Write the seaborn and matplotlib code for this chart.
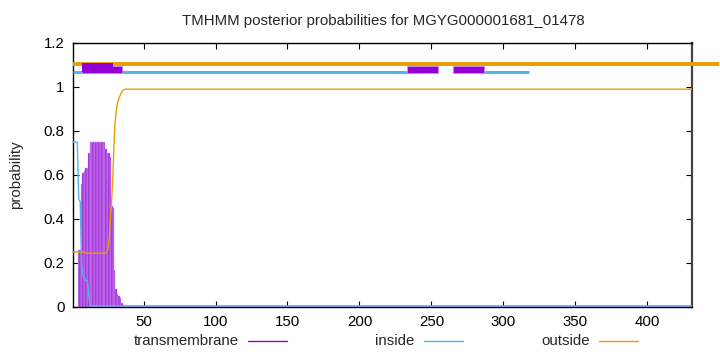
import numpy as np
import pandas as pd
import matplotlib
matplotlib.use("Agg")
import matplotlib.pyplot as plt
import seaborn as sns
from matplotlib.patches import Rectangle
from matplotlib.lines import Line2D
from matplotlib.ticker import FuncFormatter

# ---------------- data ----------------
title = "TMHMM posterior probabilities for MGYG000001681_01478"
seq_len = 431

# per-residue posterior probabilities (residues 1..len(head)), rest constant tail
tm_head = [0, 0, 0, 0, 0.26, 0.26, 0.56, 0.61, 0.62, 0.63, 0.63, 0.70,
           0.75, 0.75, 0.75, 0.75, 0.75, 0.75, 0.75, 0.75, 0.75, 0.75, 0.75,
           0.72, 0.70, 0.70, 0.68, 0.46, 0.45, 0.17, 0.08, 0.06, 0.05, 0.04,
           0.02, 0.01]
tm_tail = 0.003

inside_head = [0.75, 0.75, 0.75, 0.75, 0.49, 0.48, 0.19, 0.14, 0.13, 0.12,
               0.12, 0.05]
inside_tail = 0.005

outside_head = [0.25, 0.25, 0.25, 0.25, 0.25, 0.25, 0.25, 0.25, 0.25,
                0.245, 0.245, 0.245, 0.245, 0.245, 0.245, 0.245, 0.245,
                0.245, 0.245, 0.245, 0.245, 0.245, 0.245, 0.245, 0.26,
                0.30, 0.40, 0.50, 0.65, 0.82, 0.89, 0.93, 0.95, 0.965,
                0.98, 0.985]
outside_tail = 0.99

# predicted topology segments (top bars)
outside_segs = [(1, 450)]
inside_segs = [(1, 244), (286, 318)]
tm_boxes = [(232.8, 254.3), (264.7, 286.2)]
tm_box_main = (7.2, 28.7)
tm_box_ext = (7.2, 35.0)

x_ticks = [50, 100, 150, 200, 250, 300, 350, 400]
y_ticks = [0, 0.2, 0.4, 0.6, 0.8, 1.0, 1.2]
legend_labels = ["transmembrane", "inside", "outside"]

# ---------------- build ----------------
def full(head, tail):
    return np.array(head + [tail] * (seq_len - len(head)), dtype=float)

pos = np.arange(1, seq_len + 1)
df = pd.DataFrame({"pos": pos,
                   "tm": full(tm_head, tm_tail),
                   "inside": full(inside_head, inside_tail),
                   "outside": full(outside_head, outside_tail)})

c_tm = "#9400D3"
c_in = "#56B4E9"
c_out = "#E69F00"
FS = 10.8

sns.set_theme(style="ticks")
plt.rcParams['font.family'] = ['Liberation Sans', 'DejaVu Sans']

W, H = 720, 352
fig = plt.figure(figsize=(7.2, 3.52), dpi=100)
ax = fig.add_axes([73 / W, 45 / H, 619 / W, 264 / H])

ax.bar(df["pos"], df["tm"], width=1.0, color="#9a22da",
       edgecolor="#d8a2f0", linewidth=0.3, zorder=2)
sns.lineplot(data=df, x="pos", y="inside", color=c_in, lw=1.0, ax=ax, zorder=3)
sns.lineplot(data=df, x="pos", y="outside", color=c_out, lw=1.0, ax=ax, zorder=3)

# top topology bars
for a, b in inside_segs:
    ax.plot([a, b], [1.068, 1.068], color=c_in, lw=2.2, solid_capstyle="butt",
            zorder=3, clip_on=False)
ax.add_patch(Rectangle((tm_box_ext[0], 1.065), tm_box_ext[1] - tm_box_ext[0],
                       0.032, facecolor=c_tm, edgecolor="#c78be8", lw=0.6,
                       zorder=4, clip_on=False))
for a, b in tm_boxes:
    ax.add_patch(Rectangle((a, 1.065), b - a, 0.032, facecolor=c_tm,
                           edgecolor="#c78be8", lw=0.6, zorder=4, clip_on=False))
for a, b in outside_segs:
    ax.plot([a, b], [1.104, 1.104], color=c_out, lw=2.8, solid_capstyle="butt",
            zorder=5, clip_on=False)
ax.add_patch(Rectangle((tm_box_main[0], 1.066), tm_box_main[1] - tm_box_main[0],
                       0.042, facecolor=c_tm, edgecolor="none", zorder=6,
                       clip_on=False))

ax.set_xlim(1, seq_len)
ax.set_ylim(0, 1.2)
ax.set_xticks(x_ticks)
ax.set_yticks(y_ticks)
ax.yaxis.set_major_formatter(FuncFormatter(lambda v, p: f"{v:g}"))
ax.set_xlabel("")
ax.set_ylabel("")
ax.tick_params(direction="in", top=True, right=True, length=4, width=0.8,
               labelsize=FS, pad=6, colors="black")
for s in ax.spines.values():
    s.set_visible(True)
    s.set_color("black")
    s.set_linewidth(1.0)
ax.spines["right"].set_color("#444444")
ax.spines["right"].set_linewidth(1.6)

fig.text(383 / W, 1 - 21.5 / H, title, ha="center", va="center", fontsize=FS)
fig.text(16 / W, 1 - 175 / H, "probability", rotation=90, ha="center",
         va="center", fontsize=FS)

# legend (gnuplot style: text then sample)
leg_text_right = [239, 414, 590]
leg_line = [(248, 287), (424, 463), (599, 638)]
leg_colors = [c_tm, c_in, c_out]
ly = 1 - 341 / H
for lab, tr, (l0, l1), col in zip(legend_labels, leg_text_right, leg_line, leg_colors):
    fig.text(tr / W, ly, lab, ha="right", va="center", fontsize=FS)
    fig.add_artist(Line2D([l0 / W, l1 / W], [ly, ly], color=col, lw=1.0,
                          transform=fig.transFigure))

fig.savefig("out.png", dpi=100)
